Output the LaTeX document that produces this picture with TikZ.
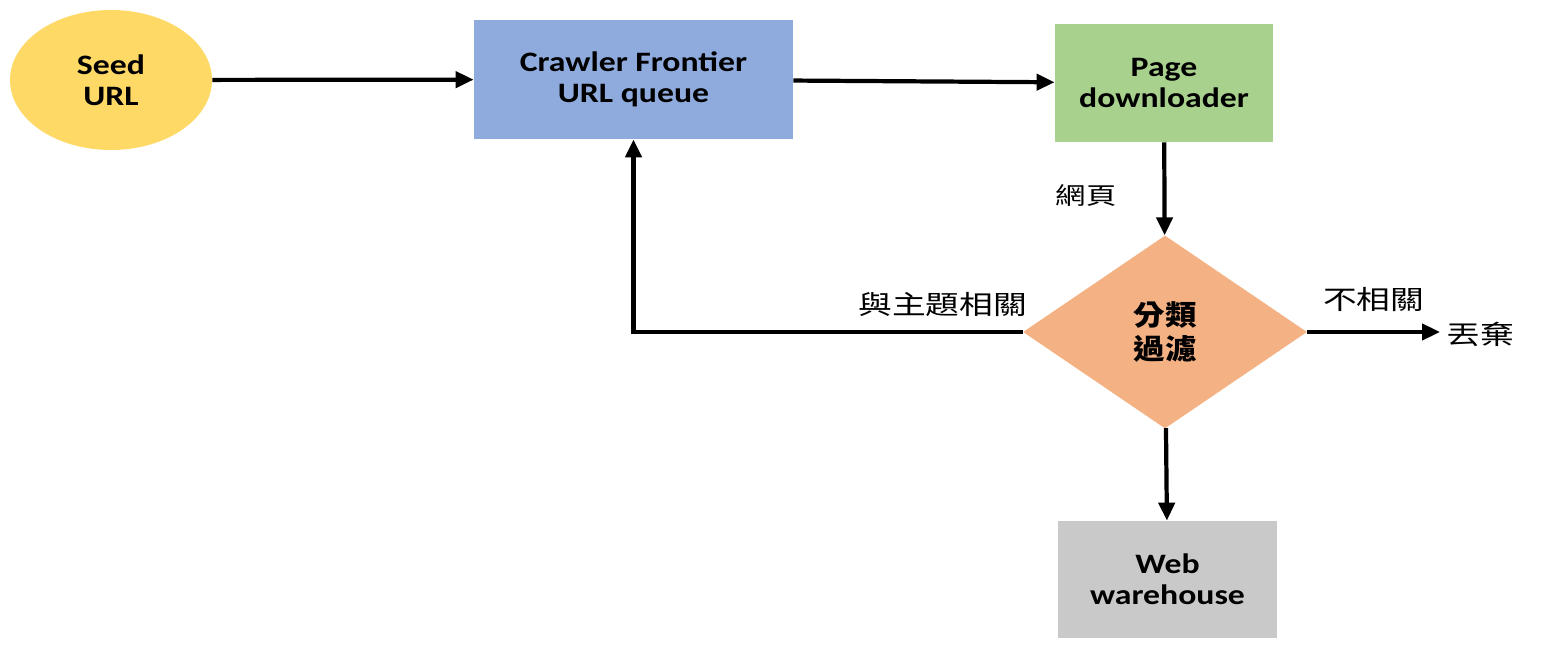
\documentclass[tikz,border=0pt]{standalone}
\usepackage{fontspec}
\setmainfont{Carlito}[FakeStretch=1.2]
\newfontfamily\cjk{Noto Sans CJK TC}[FakeStretch=1.28]
\newfontfamily\cjkb{Noto Sans CJK TC}[FakeStretch=1.12]
\usetikzlibrary{shapes.geometric,arrows.meta}
\definecolor{seedyellow}{HTML}{FFD966}
\definecolor{queueblue}{HTML}{8FAADC}
\definecolor{pagegreen}{HTML}{A9D18E}
\definecolor{filterorange}{HTML}{F4B183}
\definecolor{storegray}{HTML}{C9C9C9}
\newcommand{\lbl}[2][15]{{\cjk\fontsize{#1}{18}\selectfont #2}}

\begin{document}
\begin{tikzpicture}[
    box/.style={rectangle, align=center, font=\fontsize{16}{17.6}\selectfont\bfseries, inner sep=0pt},
    arr/.style={line width=2.4pt, -{Triangle[length=3.6mm,width=3.2mm]}}
  ]
  \useasboundingbox (0,0) rectangle (31.2,-13.08);
  \node[box, ellipse, fill=seedyellow, minimum width=4.04cm, minimum height=2.8cm] (seed) at (2.22,-1.6) {Seed\\URL};
  \node[box, fill=queueblue, minimum width=6.38cm, minimum height=2.38cm] (frontier) at (12.67,-1.59) {Crawler Frontier\\URL queue};
  \node[box, fill=pagegreen, minimum width=4.36cm, minimum height=2.36cm] (down) at (23.28,-1.66) {Page\\downloader};
  \node[box, diamond, fill=filterorange, minimum width=5.68cm, minimum height=3.86cm, font=\cjkb\fontsize{16}{19}\selectfont\bfseries] (filter) at (23.3,-6.64) {分類\\過濾};
  \node[box, fill=storegray, minimum width=4.38cm, minimum height=2.34cm] (store) at (23.35,-11.59) {Web\\warehouse};
  \node (drop) at (29.6,-6.68) {\lbl{丟棄}};
  % connectors
  \draw[arr] (seed) -- (frontier);
  \draw[arr] (frontier) -- (down);
  \draw[arr] (down) -- node[left=0.8cm, yshift=-4pt] {\lbl[13.5]{網頁}} (filter);
  \draw[arr] (filter.west) node[anchor=south east, xshift=7pt, yshift=4pt] {\lbl{與主題相關}} -| (frontier.south);
  \draw[arr] (filter.east) -- node[above=0.25cm] {\lbl{不相關}} (filter.east -| drop.west);
  \draw[arr] (filter) -- (store);
\end{tikzpicture}
\end{document}
